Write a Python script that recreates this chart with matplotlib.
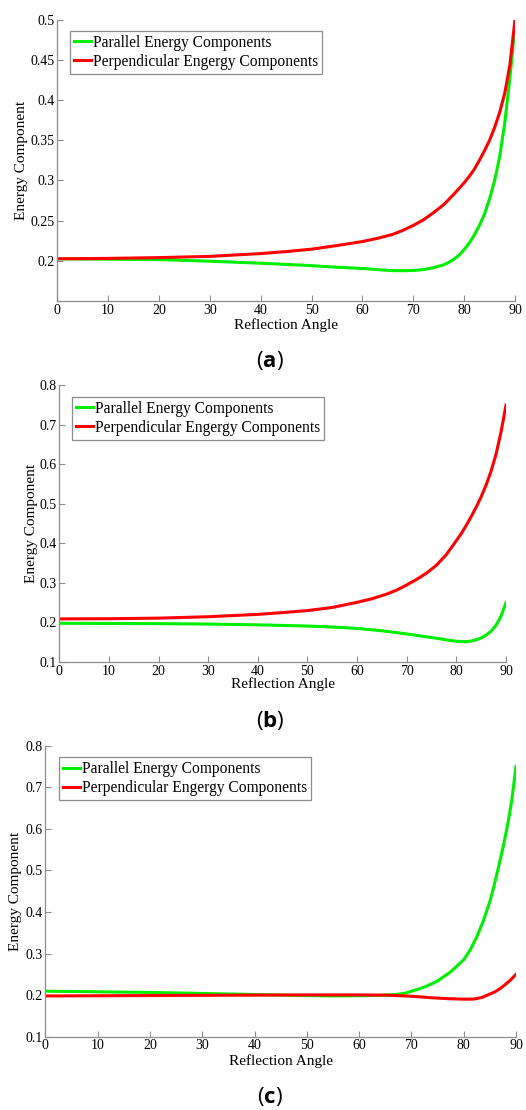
import matplotlib
matplotlib.use("Agg")
import matplotlib.pyplot as plt

plt.rcParams['font.family'] = ['Liberation Serif', 'DejaVu Serif']
plt.rcParams['mathtext.fontset'] = 'custom'
plt.rcParams['mathtext.rm'] = 'Open Sans'
plt.rcParams['mathtext.bf'] = 'Open Sans:bold'

# ---------------- data ----------------
angle_a_par = [0, 10, 20, 30, 40, 50, 55, 60, 63, 66, 68, 70, 72, 74, 76, 77, 78, 79, 80, 81, 82,
               83, 84, 85, 86, 87, 88, 88.5, 89, 89.5, 90]
par_a = [0.2025, 0.202, 0.2015, 0.1995, 0.197, 0.194, 0.192, 0.1905, 0.189, 0.1878, 0.1877, 0.188,
         0.189, 0.1915, 0.195, 0.198, 0.202, 0.207, 0.214, 0.222, 0.232, 0.244, 0.258, 0.277,
         0.300, 0.330, 0.372, 0.400, 0.428, 0.460, 0.495]
angle_a_perp = [0, 10, 20, 30, 40, 45, 50, 55, 60, 63, 66, 68, 70, 72, 74, 76, 78, 80, 81, 82, 83,
                84, 85, 86, 87, 88, 89, 90]
perp_a = [0.2025, 0.203, 0.204, 0.2055, 0.209, 0.2115, 0.2145, 0.219, 0.224, 0.228, 0.233, 0.238,
          0.244, 0.251, 0.260, 0.270, 0.283, 0.297, 0.305, 0.314, 0.325, 0.337, 0.350, 0.366,
          0.385, 0.409, 0.444, 0.50]

angle_b_par = [0, 10, 20, 30, 40, 50, 55, 60, 65, 70, 73, 76, 78, 80, 81, 82, 83, 84, 85, 86, 87,
               88, 89, 90]
par_b = [0.198, 0.1975, 0.197, 0.196, 0.194, 0.191, 0.1885, 0.185, 0.179, 0.171, 0.1655, 0.160,
         0.156, 0.1525, 0.1515, 0.1515, 0.153, 0.156, 0.161, 0.168, 0.178, 0.193, 0.216, 0.25]
angle_b_perp = [0, 10, 20, 30, 40, 45, 50, 55, 60, 63, 66, 68, 70, 72, 74, 76, 78, 80, 81, 82, 83,
                84, 85, 86, 87, 88, 89, 90]
perp_b = [0.209, 0.2095, 0.211, 0.2145, 0.2205, 0.225, 0.230, 0.238, 0.251, 0.260, 0.272, 0.282,
          0.295, 0.309, 0.325, 0.345, 0.372, 0.407, 0.425, 0.446, 0.468, 0.492, 0.518, 0.548,
          0.583, 0.626, 0.682, 0.75]

angle_c_par = [0, 10, 20, 30, 40, 50, 55, 60, 64, 67, 69, 70, 71.5, 73, 75, 77.5, 80, 81.3, 82.5,
               83.8, 85, 85.7, 86.6, 87.6, 88.4, 89.2, 90]
par_c = [0.2095, 0.208, 0.2065, 0.204, 0.2015, 0.199, 0.198, 0.1985, 0.1995, 0.2015, 0.205, 0.2095,
         0.215, 0.222, 0.234, 0.256, 0.285, 0.310, 0.340, 0.380, 0.425, 0.458, 0.505, 0.560,
         0.610, 0.669, 0.75]
angle_c_perp = [0, 10, 20, 30, 40, 50, 60, 65, 68, 71, 74, 77, 80, 82, 83.5, 85, 86, 87, 88, 89, 90]
perp_c = [0.198, 0.1985, 0.199, 0.1995, 0.200, 0.2005, 0.2005, 0.200, 0.1985, 0.1965, 0.1935,
          0.1915, 0.1903, 0.1905, 0.1945, 0.2025, 0.208, 0.216, 0.226, 0.237, 0.25]

labels = ['Parallel Energy Components', 'Perpendicular Engergy Components']
captions = ['a', 'b', 'c']
xticks = list(range(0, 91, 10))
yticks_a = [0.2, 0.25, 0.3, 0.35, 0.4, 0.45, 0.5]
yticks_bc = [0.1, 0.2, 0.3, 0.4, 0.5, 0.6, 0.7, 0.8]
ytl_a = ['0.2', '0.25', '0.3', '0.35', '0.4', '0.45', '0.5']
ytl_bc = ['0.1', '0.2', '0.3', '0.4', '0.5', '0.6', '0.7', '0.8']

W, H = 526, 1110
fig = plt.figure(figsize=(W / 100, H / 100), dpi=100)

GREEN = '#00ee00'
RED = '#ff0000'
GRAY = '#8c8c8c'

panels = [
    dict(box=(57.3, 19.7, 515, 301), xp=angle_a_par, p=par_a, xq=angle_a_perp, q=perp_a,
         ylim=(0.15, 0.5), yt=yticks_a, ytl=ytl_a, ylx=22, xly=325, cap_y=360, leg=(70, 30.7)),
    dict(box=(59.3, 385.3, 506, 662), xp=angle_b_par, p=par_b, xq=angle_b_perp, q=perp_b,
         ylim=(0.1, 0.8), yt=yticks_bc, ytl=ytl_bc, ylx=32, xly=684.3, cap_y=720, leg=(72, 396.7)),
    dict(box=(45.3, 745.7, 516, 1036.7), xp=angle_c_par, p=par_c, xq=angle_c_perp, q=perp_c,
         ylim=(0.1, 0.8), yt=yticks_bc, ytl=ytl_bc, ylx=16, xly=1060.7, cap_y=1096.7,
         leg=(59, 757.3)),
]

for pn, cap in zip(panels, captions):
    l, t, r, b = pn['box']
    ax = fig.add_axes([l / W, 1 - b / H, (r - l) / W, (b - t) / H])
    ax.plot(pn['xp'], pn['p'], color=GREEN, lw=2.2, label=labels[0])
    ax.plot(pn['xq'], pn['q'], color=RED, lw=2.2, label=labels[1])
    ax.set_xlim(0, 90)
    ax.set_ylim(*pn['ylim'])
    ax.set_xticks(xticks)
    ax.set_xticklabels([str(v) for v in xticks])
    ax.set_yticks(pn['yt'])
    ax.set_yticklabels(pn['ytl'])
    for s in ['top', 'right']:
        ax.spines[s].set_visible(False)
    for s in ['left', 'bottom']:
        ax.spines[s].set_color(GRAY)
        ax.spines[s].set_linewidth(0.9)
    ax.tick_params(direction='in', length=4, width=0.8, color=GRAY, labelsize=10, pad=2)
    ax.set_xlabel('Reflection Angle', fontsize=11)
    ax.xaxis.set_label_coords((l + r) / 2 / W, 1 - pn['xly'] / H, transform=fig.transFigure)
    ax.xaxis.label.set_va('center')
    ax.set_ylabel('Energy Component', fontsize=11)
    ax.yaxis.set_label_coords(pn['ylx'] / W, 1 - (t + b) / 2 / H, transform=fig.transFigure)
    ax.yaxis.label.set_va('center')
    lx, ly = pn['leg']
    leg = ax.legend(loc='upper left', bbox_to_anchor=(lx / W, 1 - ly / H),
                    bbox_transform=fig.transFigure, fontsize=11.2, frameon=True,
                    fancybox=False, edgecolor=GRAY, handlelength=1.1, handletextpad=0.1,
                    borderpad=0.25, labelspacing=0.2, borderaxespad=0, framealpha=1)
    leg.get_frame().set_linewidth(0.9)
    fig.text(270 / W, 1 - pn['cap_y'] / H, '($\\mathbf{' + cap + '}$)', family='Open Sans',
             fontsize=16, ha='center', va='center')

fig.savefig('out.png', dpi=100)
